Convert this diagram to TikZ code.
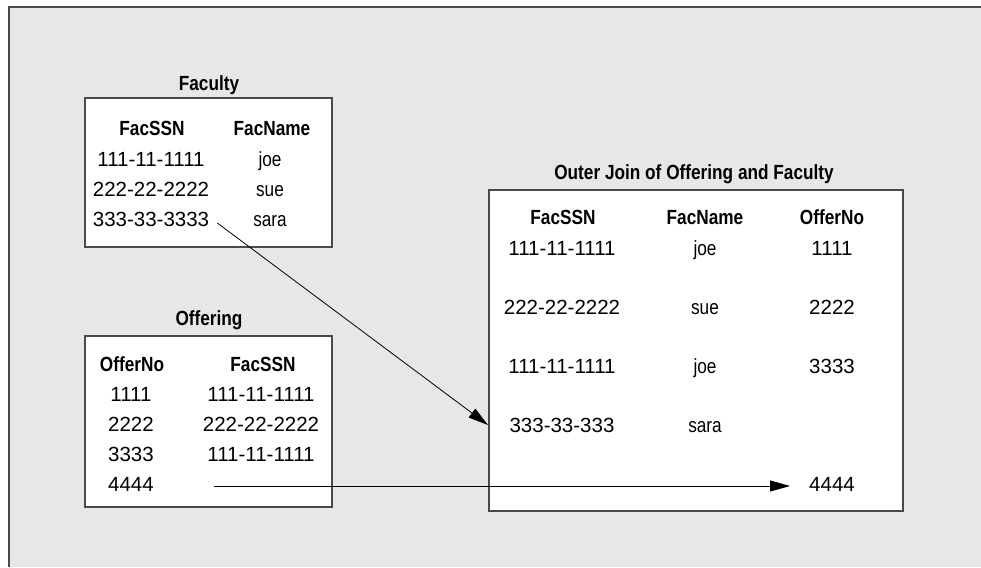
\documentclass[tikz,border=0pt]{standalone}
\usepackage{fontspec}
\setmainfont{Liberation Sans}[FakeStretch=0.84]
\newfontfamily\numfont{Liberation Sans}
\usetikzlibrary{arrows.meta,calc}
\definecolor{panel}{HTML}{E6E7E9}
\definecolor{rule}{HTML}{4A4A4A}
\begin{document}
\begin{tikzpicture}[x=1pt,y=-1pt,
  cell/.style={inner sep=0pt,text height=15pt,text depth=0pt,
    font=\fontsize{20.5}{24}\selectfont},
  num/.style={cell,font=\fontsize{20.5}{24}\selectfont\numfont},
  head/.style={cell,font=\fontsize{20.5}{24}\selectfont\bfseries},
  table/.style={draw=rule,line width=1.5pt,fill=white},
  arr/.style={draw=black,line width=0.8pt,-{Triangle[length=20pt,width=11pt]}}]
\useasboundingbox (0,0) rectangle (981,567);
% background panel, open at right and bottom
\fill[panel] (9,7) rectangle (981,567);
\draw[rule,line width=2pt] (9,567) -- (9,7) -- (981,7);

% Faculty table
\node[head] (facTitle) at (209,83) {Faculty};
\draw[table] (85,98) rectangle (332,247);
\node[head] (fh1) at (152,128) {FacSSN};
\node[head] (fh2) at (272,128) {FacName};
\node[num] (f1c1) at (151,159) {111-11-1111};
\node[cell] (f1c2) at (270,159) {joe};
\node[num] (f2c1) at (151,189) {222-22-2222};
\node[cell] (f2c2) at (270,189) {sue};
\node[num] (f3c1) at (151,219) {333-33-3333};
\node[cell] (f3c2) at (270,219) {sara};

% Offering table
\node[head] (offTitle) at (209,318) {Offering};
\draw[table] (85,336) rectangle (332,507);
\node[head] (oh1) at (132,364) {OfferNo};
\node[head] (oh2) at (263,364) {FacSSN};
\node[num] (o1c1) at (131,394) {1111};
\node[num] (o1c2) at (261,394) {111-11-1111};
\node[num] (o2c1) at (131,424) {2222};
\node[num] (o2c2) at (261,424) {222-22-2222};
\node[num] (o3c1) at (131,454) {3333};
\node[num] (o3c2) at (261,454) {111-11-1111};
\node[num] (o4c1) at (131,484) {4444};

% Outer join result
\node[head] (joinTitle) at (694,172) {Outer Join of Offering and Faculty};
\node[table,inner sep=0pt,minimum width=414pt,minimum height=321pt,anchor=north west] (join) at (488,189) {};
\node[head] (jh1) at (563,217) {FacSSN};
\node[head] (jh2) at (705,217) {FacName};
\node[head] (jh3) at (832,217) {OfferNo};
\node[num] (j1c1) at (562,248) {111-11-1111};
\node[cell] (j1c2) at (705,248) {joe};
\node[num] (j1c3) at (832,248) {1111};
\node[num] (j2c1) at (562,307) {222-22-2222};
\node[cell] (j2c2) at (705,307) {sue};
\node[num] (j2c3) at (832,307) {2222};
\node[num] (j3c1) at (562,366) {111-11-1111};
\node[cell] (j3c2) at (705,366) {joe};
\node[num] (j3c3) at (832,366) {3333};
\node[num] (j4c1) at (562,425) {333-33-333};
\node[cell] (j4c2) at (705,425) {sara};
\node[num] (j5c3) at (832,484) {4444};

% connectors
\coordinate (facTail) at ($(f3c1.east)+(8,4)$);
\draw[arr] (facTail) -- (join.west |- j4c1);
\coordinate (offTail) at (214,486);
\draw[arr,shorten >=19pt] (offTail) -- (offTail -| j5c3.west);
\end{tikzpicture}
\end{document}
